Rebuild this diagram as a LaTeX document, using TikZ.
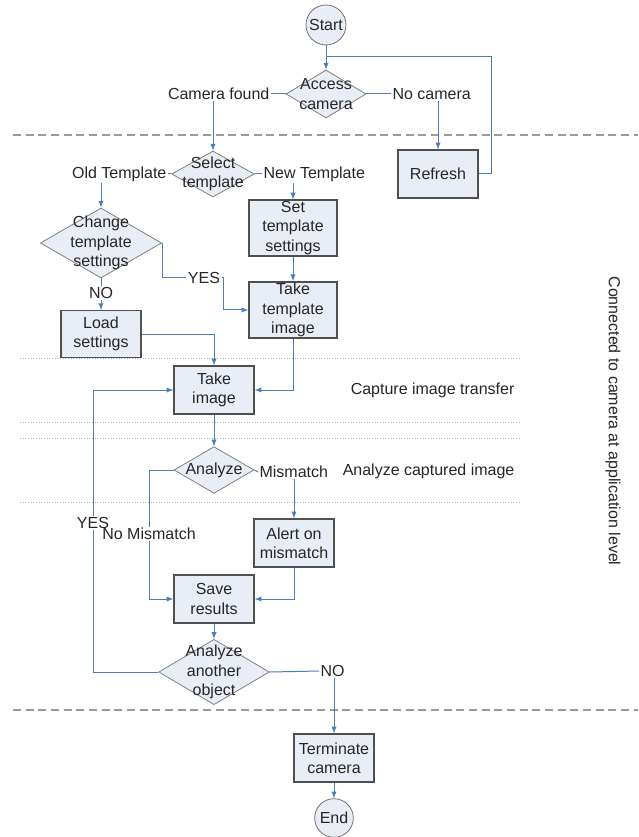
\documentclass[tikz,border=0pt]{standalone}
\usepackage{fontspec}
\setmainfont{Liberation Sans}
\usetikzlibrary{shapes.geometric}
\usetikzlibrary{positioning}
\usetikzlibrary{arrows}
\definecolor{boxfill}{HTML}{E8EDF6}
\definecolor{boxline}{HTML}{505050}
\definecolor{flowblue}{HTML}{4A7EBB}
\definecolor{sepgray}{HTML}{9A9A9A}
\tikzset{
every node/.style={ % Sets the font for all texts
font=\fontsize{12}{14.5}\selectfont,
text=black!85},
process/.style={ % Rectangular steps
rectangle, draw=boxline, line width=1pt, fill=boxfill,
align=center, inner sep=1pt,
minimum width=60pt, minimum height=36pt},
decision/.style={ % Diamonds, text is put in a centred label
diamond, draw=gray, line width=0.6pt, fill=boxfill,
inner sep=0pt},
terminal/.style={ % Start and end
circle, draw=gray!90!black, line width=0.6pt, fill=boxfill,
minimum size=30pt, inner sep=0pt},
tag/.style={inner sep=1pt},
link/.style={draw=flowblue, line width=0.75pt},
flow/.style={link, ->, >=latex},
bound/.style={draw=sepgray, line width=1pt, dash pattern=on 6pt off 3.5pt},
lane/.style={draw=sepgray!80, line width=0.7pt, dash pattern=on 0.7pt off 1.3pt}}

\begin{document}
\begin{tikzpicture}[x=0.75pt, y=-0.75pt]
\useasboundingbox (0,0) rectangle (638,837);

% separators
\draw[bound] (13,135) -- (638,135);
\draw[bound] (13,710) -- (638,710);
\foreach \y in {358,422,438,502}
  \draw[lane] (20,\y) -- (520,\y);

\node[terminal] (start) at (326,25) {Start};
\node[decision, minimum width=60pt, minimum height=36pt,
  label={[align=center]center:Access\\camera}] (access) at (326,94) {};
\node[tag, anchor=east] (camfound) at (271,94) {Camera found};
\node[tag, anchor=west] (nocam) at (391,94) {No camera};
\node[process] (refresh) at (438,174) {Refresh};
\coordinate (loopjoin) at (326,57);

\node[decision, minimum width=62pt, minimum height=34.5pt,
  label={[align=center]center:Select\\template}] (select) at (213,174) {};
\node[tag, anchor=east] (oldtpl) at (168,174) {Old Template};
\node[tag, anchor=west] (newtpl) at (262,174) {New Template};
\node[decision, minimum width=91pt, minimum height=52.5pt,
  label={[align=center]center:Change\\template\\settings}] (change) at (101,243) {};
\node[process, minimum width=66pt, minimum height=39pt] (settpl) at (293,228) {Set\\template\\settings};
\node[process, minimum width=66pt, minimum height=39pt] (taketpl) at (293,310) {Take\\template\\image};
\node[tag] (yes1) at (204,278) {YES};
\node[tag] (no1) at (101,293) {NO};
\node[process, minimum height=35pt] (load) at (101,334) {Load\\settings};

\node[process] (take) at (214,390) {Take\\image};
\node[tag, anchor=east] (capture) at (516,390) {Capture image transfer};
\node[decision, minimum width=60pt, minimum height=35pt,
  label={[align=center]center:Analyze}] (analyze) at (214,470) {};
\node[tag, anchor=east] (analyzecap) at (516,471) {Analyze captured image};
\node[tag, anchor=west] (mism) at (258,472) {Mismatch};
\node[tag] (nomism) at (149,534) {No Mismatch};
\node[tag] (yes2) at (93,523) {YES};
\node[process] (alert) at (294,543) {Alert on\\mismatch};
\node[process] (save) at (214,599) {Save\\results};
\node[decision, minimum width=83pt, minimum height=49pt,
  label={[align=center]center:Analyze\\another\\object}] (another) at (214,672) {};
\node[tag, anchor=west] (no2) at (319,671) {NO};
\node[process] (term) at (334,758) {Terminate\\camera};
\node[terminal, minimum size=29pt] (end) at (334,818) {End};

\node[rotate=-90] (level) at (613,421) {Connected to camera at application level};

% connections
\draw[flow] (start) -- (access);
\draw[link] (access.west) -- (camfound.east);
\draw[link] (access.east) -- (nocam.west);
\draw[flow] (camfound.south -| select.north) -- (select.north);
\draw[flow] (nocam.south -| refresh.north) -- (refresh.north);
\draw[link] (refresh.east) -- ++(13,0) |- (loopjoin);
\draw[link] (select.west) -- (oldtpl.east);
\draw[link] (select.east) -- (newtpl.west);
\draw[flow] (oldtpl.south -| change.north) -- (change.north);
\draw[flow] (newtpl.south -| settpl.north) -- (settpl.north);
\draw[flow] (settpl) -- (taketpl);
\draw[link] (change.east) |- (yes1.west);
\draw[flow] (yes1.east) -- ++(2,0) |- (taketpl.west);
\draw[link] (change.south) -- (no1.north);
\draw[flow] (no1.south) -- (load.north);
\draw[flow] (load.east) -| (take.north);
\draw[flow] (taketpl.south) |- (take.east);
\draw[flow] (take) -- (analyze);
\draw[link] (analyze.east) -- (mism.west);
\draw[flow] (mism.south -| alert.north) -- (alert.north);
\draw[link] (analyze.west) -| (nomism.north);
\draw[flow] (nomism.south) |- (save.west);
\draw[flow] (alert.south) |- (save.east);
\draw[flow] (save) -- (another);
\draw[link] (another.west) -| (yes2.south);
\draw[flow] (yes2.north) |- (take.west);
\draw[link] (another.east) -- (no2.west);
\draw[flow] (no2.south -| term.north) -- (term.north);
\draw[flow] (term) -- (end);
\end{tikzpicture}
\end{document}
